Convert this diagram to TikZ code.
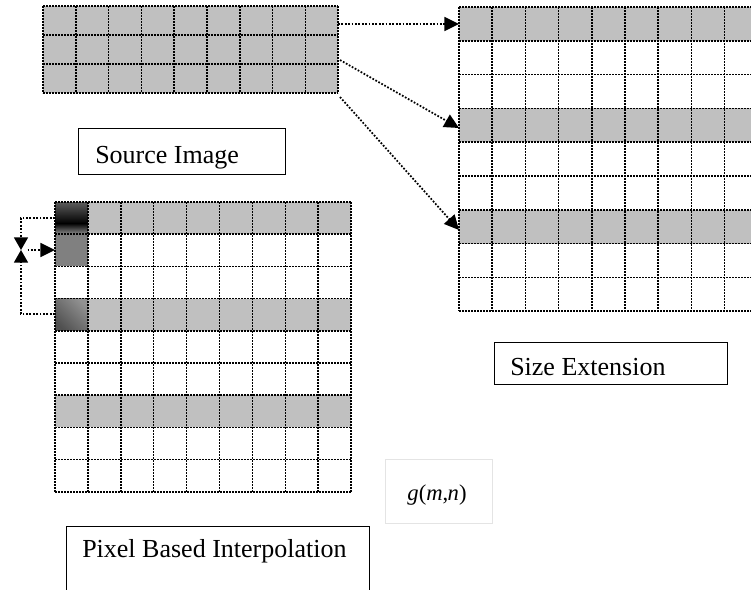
\documentclass[tikz,border=0pt]{standalone}
\usepackage{fontspec}
\setmainfont{Liberation Serif}
\usetikzlibrary{arrows.meta}

\definecolor{cellgrey}{RGB}{192,192,192}
\definecolor{midgrey}{RGB}{128,128,128}
\definecolor{paleframe}{RGB}{228,228,228}
\definecolor{bandtop}{RGB}{92,92,92}
\definecolor{bandlow}{RGB}{140,140,140}

\tikzset{
  gridline/.style={line width=1.15pt, dash pattern=on 1.15pt off 1.1pt},
  link/.style={line width=1.3pt, dash pattern=on 1.3pt off 1.25pt,
    -{Triangle[length=11pt,width=10.5pt]}},
  plainlink/.style={line width=1.3pt, dash pattern=on 1.3pt off 1.25pt},
  labelbox/.style={draw, line width=1.1pt, inner sep=0pt, anchor=north west},
  caption/.style={anchor=base west, inner sep=0pt, font=\fontsize{19.5}{22}\selectfont},
  % vertical ramp: colour at the upper edge, colour at the lower edge
  ramp/.style 2 args={shading=axis, top color=#1, bottom color=#2},
}

% pixel grid: x0, y0, cell width, cell height, columns, rows
\newcommand\drawpixgrid[6]{%
  \foreach \i in {0,...,#5}
    \draw[gridline] ({#1+\i*#3},#2) -- ({#1+\i*#3},{#2+#6*#4});
  \foreach \j in {0,...,#6}
    \draw[gridline] (#1,{#2+\j*#4}) -- ({#1+#5*#3},{#2+\j*#4});
}
% grey row: x0, y0, cell width, cell height, columns, row index
\newcommand\greyrow[6]{%
  \fill[cellgrey] (#1,{#2+#6*#4}) rectangle ({#1+#5*#3},{#2+(#6+1)*#4});
}

\begin{document}
\begin{tikzpicture}[x=0.75pt,y=-0.75pt]
\useasboundingbox (0,0) rectangle (751,590);
\clip (0,0) rectangle (751,590);

% ---- source image (9 x 3, all grey)
\foreach \r in {0,1,2} { \greyrow{43}{6}{32.8}{29}{9}{\r} }
\drawpixgrid{43}{6}{32.8}{29}{9}{3}

% ---- size extension (9 x 9, rows 0,3,6 grey)
\foreach \r in {0,3,6} { \greyrow{459}{7}{33.2}{33.8}{9}{\r} }
\drawpixgrid{459}{7}{33.2}{33.8}{9}{9}

% ---- pixel based interpolation (9 x 9, rows 0,3,6 grey)
\foreach \r in {0,3,6} { \greyrow{55}{202}{32.9}{32.2}{9}{\r} }
% first cell: dark grey at the top, black band low in the middle, grey below
\shade[ramp={bandtop}{black}] (55,202) rectangle (87.9,223.5);
\shade[ramp={black}{bandlow}] (55,223.2) rectangle (87.9,234.2);
\fill[midgrey] (55,234.2) rectangle (87.9,266.4);
% fourth cell: dark lower-left corner, light diagonal, grey upper-right corner
\shade[top color={rgb,255:red,145;green,145;blue,145},
       middle color={rgb,255:red,212;green,212;blue,212},
       bottom color={rgb,255:red,80;green,80;blue,80}, shading angle=-45]
  (55,298.6) rectangle (87.9,330.8);
\drawpixgrid{55}{202}{32.9}{32.2}{9}{9}

% ---- connectors from the source rows to the extended rows
\coordinate (srcA) at (338,24);
\coordinate (srcB) at (340,60);
\coordinate (srcC) at (340,97);
\coordinate (extA) at (459,24);
\coordinate (extB) at (459,128);
\coordinate (extC) at (459,230);
\draw[link] (srcA) -- (extA);
\draw[link] (srcB) -- (extB);
\draw[link] (srcC) -- (extC);

% ---- interpolation between the known rows
\coordinate (topcell) at (55,218);
\coordinate (midcell) at (55,250);
\coordinate (lowcell) at (55,314);
\coordinate (bendtop) at (21,218);
\coordinate (bendlow) at (21,314);
\coordinate (meet) at (21,250);
\draw[plainlink, -{Triangle[length=9.5pt,width=10.5pt]}] (topcell) -- (bendtop) -- (meet);
\draw[plainlink, -{Triangle[length=9.5pt,width=10.5pt]}] (lowcell) -- (bendlow) -- (meet);
\draw[link, shorten <=5pt] (meet) -- (midcell);

% ---- labels
\node[labelbox, minimum width=155.25pt, minimum height=34.5pt] (srcbox) at (78,128) {};
\node[caption] (srctext) at (95,163) {Source Image};

\node[labelbox, minimum width=174.75pt, minimum height=31.5pt] (extbox) at (494,342) {};
\node[caption] (exttext) at (510,375) {Size Extension};

\node[labelbox, minimum width=227.25pt, minimum height=60pt] (pixbox) at (66,526) {};
\node[caption] (pixtext) at (82,557) {Pixel Based Interpolation};

\node[draw=paleframe, line width=0.8pt, inner sep=0pt, anchor=north west,
      minimum width=80pt, minimum height=48pt] (gbox) at (385,459) {};
\node[anchor=base, inner sep=0pt, font=\fontsize{17}{20}\selectfont] (gtext) at (437,500)
  {\textit{g}(\textit{m},\kern-0.5pt\textit{n})};
\end{tikzpicture}
\end{document}
